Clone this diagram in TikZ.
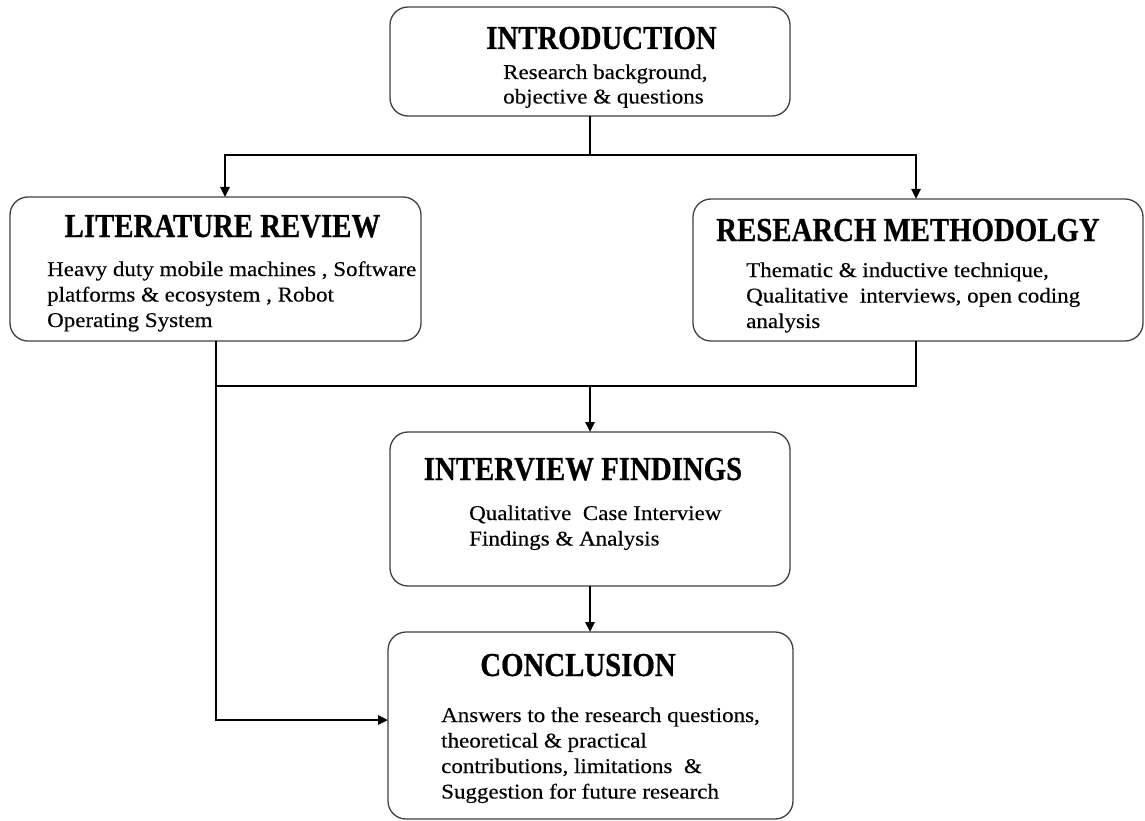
\documentclass[tikz,border=0pt]{standalone}
\usepackage{fontspec}
\usetikzlibrary{arrows.meta}
\newfontfamily\bodyfont[FakeStretch=1.095,FakeBold=0.25]{Liberation Serif}
\newfontfamily\headfont[FakeStretch=0.86,FakeBold=0.6]{Liberation Serif Bold}
\begin{document}
\begin{tikzpicture}[x=1pt,y=-1pt,
  box/.style={draw=black!75,line width=1.3pt,rounded corners=18pt},
  head/.style={inner sep=0pt,anchor=base,font=\headfont\fontsize{33.5}{36}\selectfont},
  body/.style={inner sep=0pt,anchor=base west,font=\bodyfont\fontsize{21}{25.5}\selectfont},
  link/.style={line width=2.4pt,black},
  arr/.style={link,-{Triangle[length=10pt,width=9pt]}}]
\useasboundingbox (0,0) rectangle (1145,821);

% boxes
\draw[box] (390,7) rectangle (790,116);
\draw[box] (10,197) rectangle (421,341);
\draw[box] (693,199) rectangle (1143,341);
\draw[box] (390,432) rectangle (790,586);
\draw[box] (388,632) rectangle (793,819);

% named anchor points of the boxes
\coordinate (intro-s) at (590,116);
\coordinate (lit-n) at (225,197);
\coordinate (lit-s) at (216,341);
\coordinate (meth-n) at (916,199);
\coordinate (meth-s) at (916,341);
\coordinate (find-n) at (590,432);
\coordinate (find-s) at (590,586);
\coordinate (conc-n) at (590,632);
\coordinate (conc-w) at (388,720);
\coordinate (split) at (590,155);
\coordinate (join) at (590,386);

% titles
\node[head] (t-intro) at (601.5,49) {INTRODUCTION};
\node[head] (t-lit) at (222.5,237) {LITERATURE REVIEW};
\node[head] (t-meth) at (908,241) {RESEARCH METHODOLGY};
\node[head] (t-find) at (583,480) {INTERVIEW FINDINGS};
\node[head] (t-conc) at (578,676) {CONCLUSION};

% descriptions
\node[body] (b-intro) at (503,79) {\renewcommand\arraystretch{0.96}\begin{tabular}[t]{@{}l@{}}Research background,\\objective \& questions\end{tabular}};
\node[body] (b-lit) at (47,276) {\begin{tabular}[t]{@{}l@{}}Heavy duty mobile machines , Software\\platforms \& ecosystem , Robot\\Operating System\end{tabular}};
\node[body] (b-meth) at (746,277) {\begin{tabular}[t]{@{}l@{}}Thematic \& inductive technique,\\Qualitative\ \ interviews, open coding\\analysis\end{tabular}};
\node[body] (b-find) at (469,520) {\begin{tabular}[t]{@{}l@{}}Qualitative\ \ Case Interview\\Findings \& Analysis\end{tabular}};
\node[body] (b-conc) at (441,722) {\begin{tabular}[t]{@{}l@{}}Answers to the research questions,\\theoretical \& practical\\contributions, limitations\ \ \&\\Suggestion for future research\end{tabular}};

% connectors
\draw[link] (intro-s) -- (split);
\draw[arr] (split) -| (lit-n);
\draw[arr] (split) -| (meth-n);
\draw[link] (lit-s) |- (join);
\draw[link] (meth-s) |- (join);
\draw[arr] (join) -- (find-n);
\draw[arr] (find-s) -- (conc-n);
\draw[arr] (lit-s) |- (conc-w);
\end{tikzpicture}
\end{document}
